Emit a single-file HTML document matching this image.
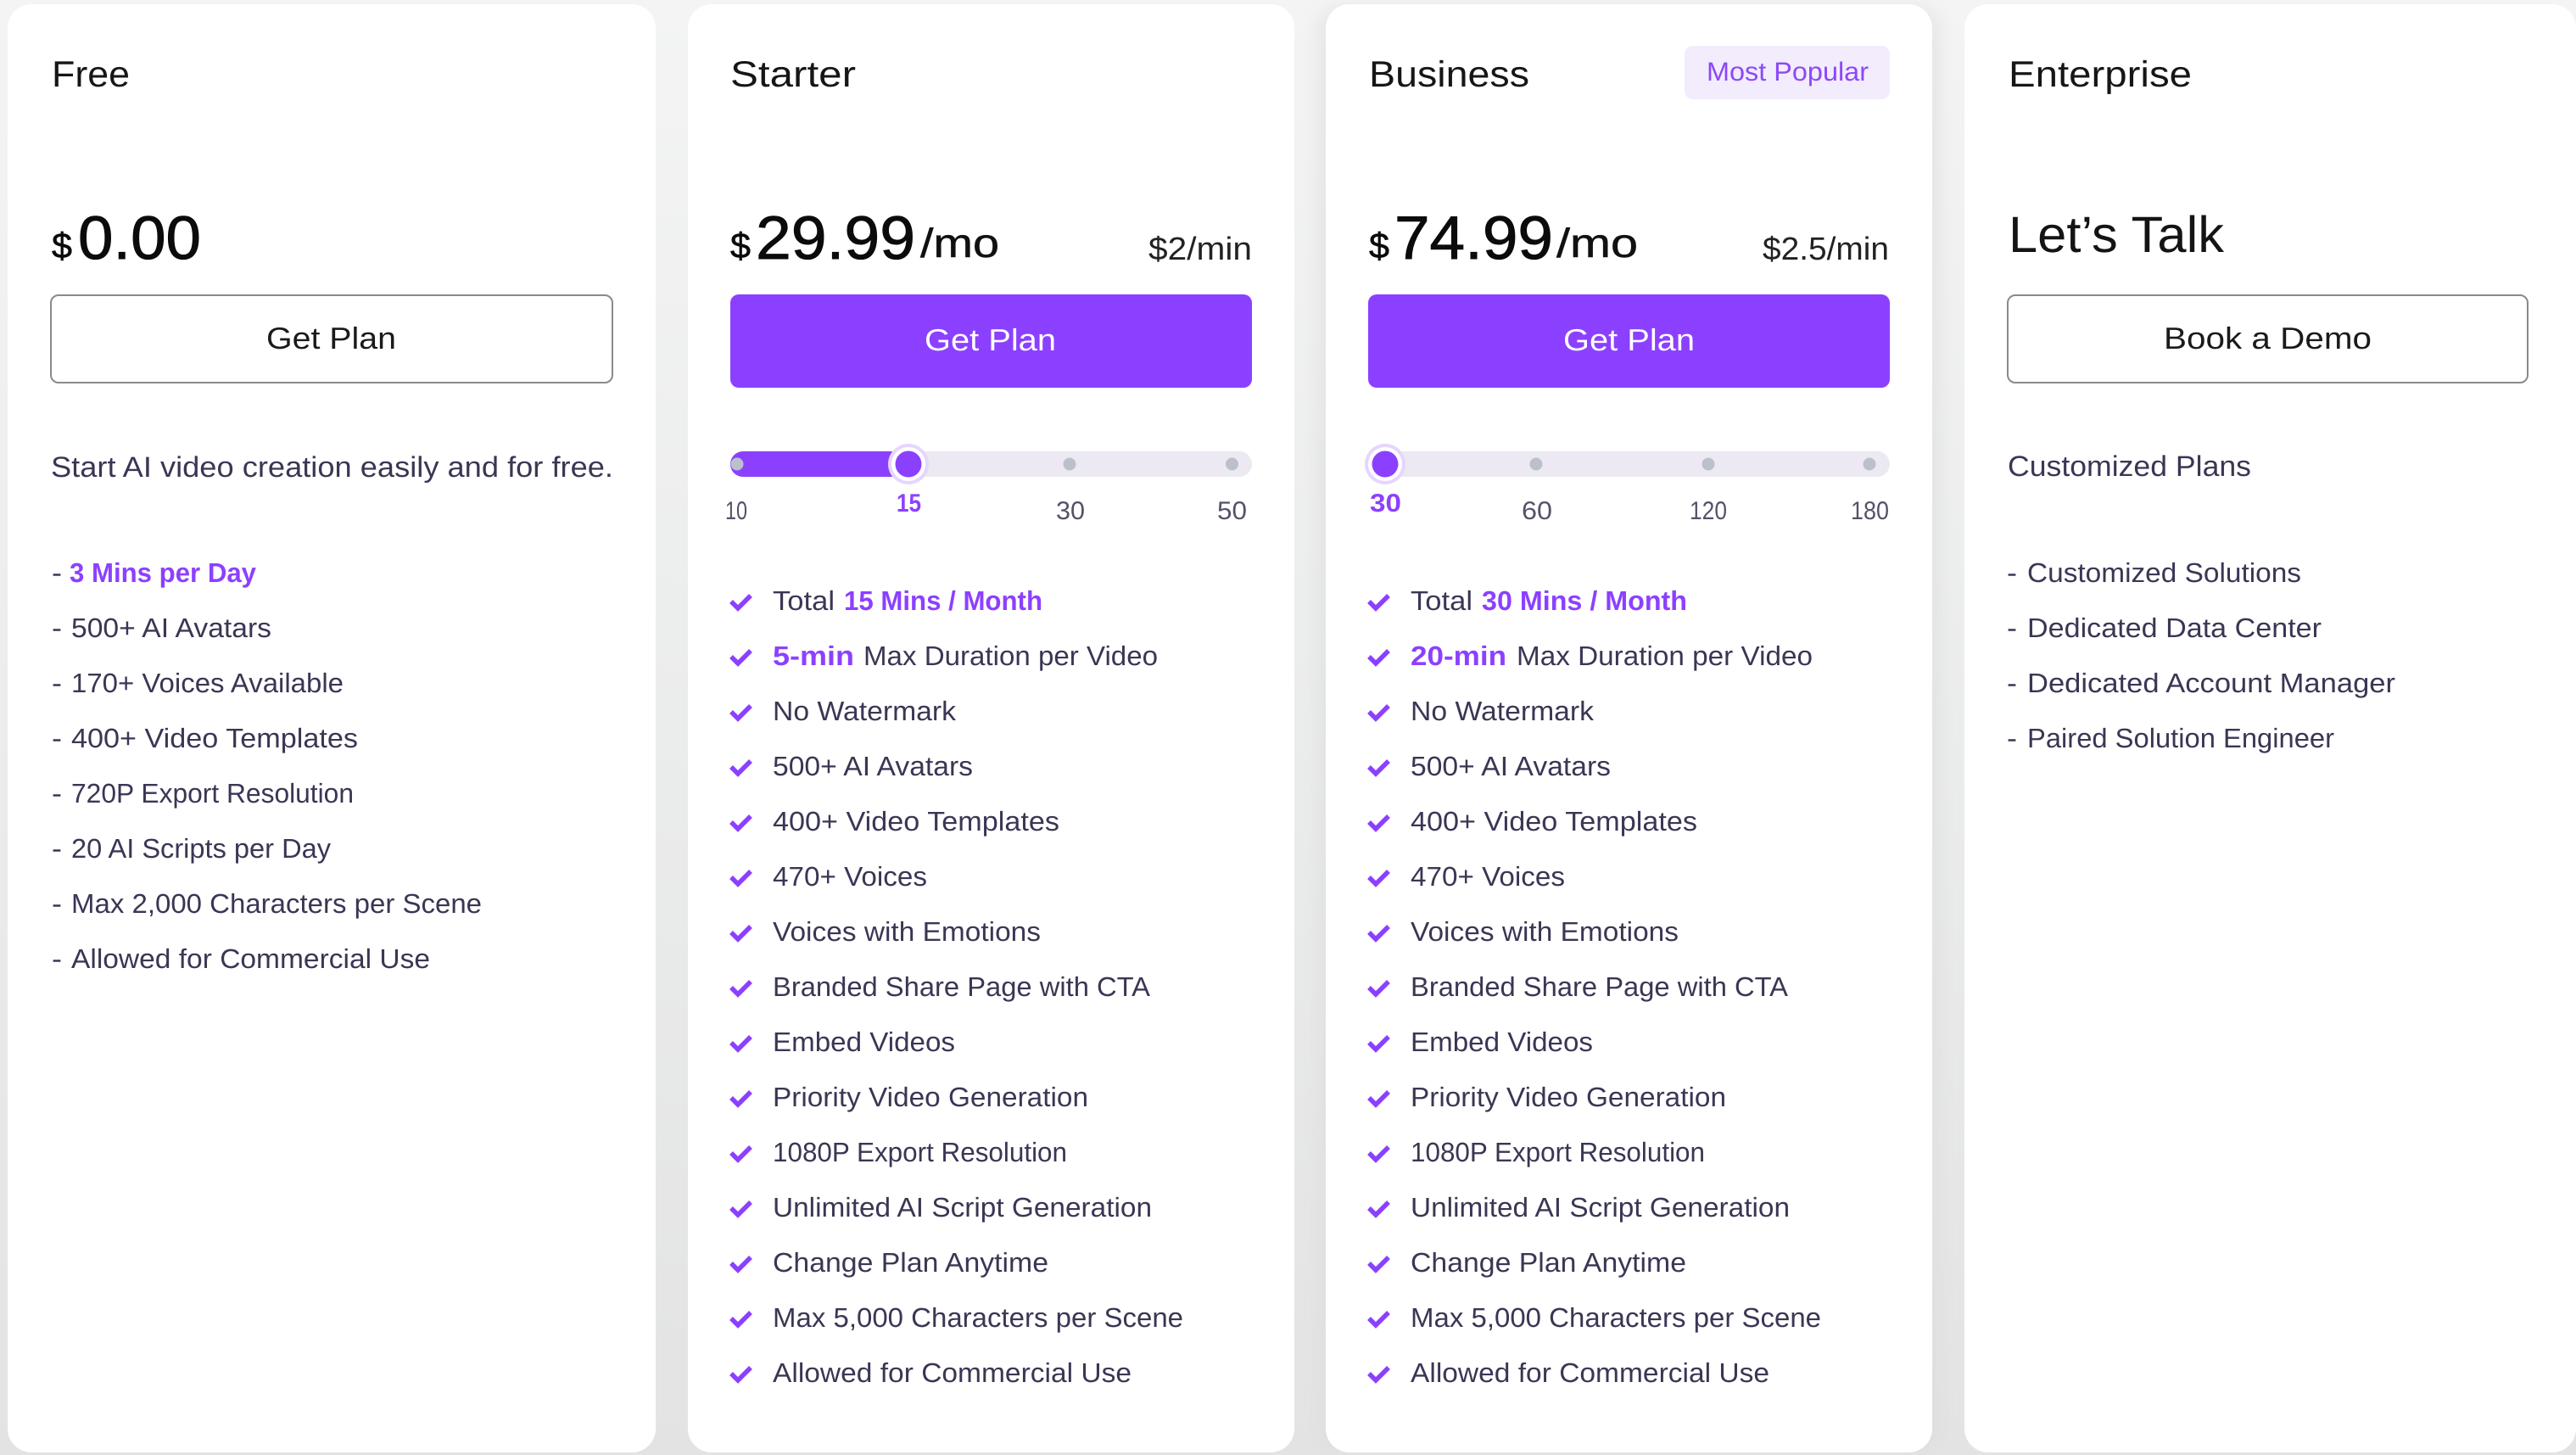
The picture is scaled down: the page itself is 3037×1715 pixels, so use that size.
<!DOCTYPE html>
<html lang="en">
<head>
<meta charset="utf-8">
<title>Pricing Plans</title>
<style>
html,body{margin:0;padding:0;width:3037px;height:1715px;overflow:hidden;background:#e8e9e8}
svg{display:block}
text{font-family:"Liberation Sans",Arial,sans-serif;text-rendering:geometricPrecision;white-space:pre}
.li{font-size:32px;fill:#3b3654}
.hl{font-size:32px;fill:#8c40ff;font-weight:700}
.h{font-size:43px;fill:#161616}
.b{font-size:36px;fill:#1a1a1a}
.bw{font-size:36px;fill:#fff}
.p{font-size:72px;fill:#0b0b0b;stroke:#0b0b0b;stroke-width:.9px}
.d{font-size:42px;fill:#0b0b0b;stroke:#0b0b0b;stroke-width:.6px}
.mo{font-size:48px;fill:#111;stroke:#111;stroke-width:.5px}
.rate{font-size:38px;fill:#222}
.desc{font-size:34px;fill:#3b3654}
.t{font-size:30px;fill:#55516a}
.ta{font-size:30px;fill:#8c40ff;font-weight:700}
.ck{fill:none;stroke:#8c40ff;stroke-width:5.5;stroke-linecap:butt;stroke-linejoin:miter}
.dot{fill:#bcc0cc}
</style>
</head>
<body>
<svg xmlns="http://www.w3.org/2000/svg" width="3037" height="1715" viewBox="0 0 3037 1715">
<defs>
<linearGradient id="bg" x1="0" y1="0" x2="0" y2="1"><stop offset="0" stop-color="#f3f4f3"/><stop offset=".5" stop-color="#ebecec"/><stop offset="1" stop-color="#e3e3e3"/></linearGradient>
<filter id="sh" x="-8%" y="-4%" width="116%" height="108%"><feGaussianBlur stdDeviation="10"/></filter>
<polyline id="check" class="ck" points="2,-10 10,-2 25,-17"/>
</defs>
<rect width="3037" height="1715" fill="url(#bg)"/>

<rect x="1553" y="8" width="735" height="1704" rx="28" fill="#dcdcdc" opacity=".55" filter="url(#sh)"/>
<rect x="9" y="5" width="764" height="1707" rx="28" fill="#fff"/>
<rect x="811" y="5" width="715" height="1707" rx="28" fill="#fff"/>
<rect x="1563" y="5" width="715" height="1707" rx="28" fill="#fff"/>
<rect x="2316" y="5" width="721" height="1707" rx="28" fill="#fff"/>

<!-- FREE -->
<g>
<text x="61" y="102" class="h" textLength="92" lengthAdjust="spacingAndGlyphs">Free</text>
<text x="61" y="304" class="d" textLength="24" lengthAdjust="spacingAndGlyphs">$</text>
<text x="92" y="305" class="p" textLength="145" lengthAdjust="spacingAndGlyphs">0.00</text>
<g>
<rect x="60" y="348" width="662" height="103" rx="9" fill="#fff" stroke="#8a8a8a" stroke-width="2"/>
<text x="314" y="411" class="b" textLength="153" lengthAdjust="spacingAndGlyphs">Get Plan</text>
</g>
<text x="60" y="562" class="desc" textLength="663" lengthAdjust="spacingAndGlyphs">Start AI video creation easily and for free.</text>
<text x="61" y="686" class="li" textLength="12" lengthAdjust="spacingAndGlyphs">-</text>
<text x="82" y="686" class="hl" textLength="220" lengthAdjust="spacingAndGlyphs">3 Mins per Day</text>
<text x="61" y="751" class="li" textLength="12" lengthAdjust="spacingAndGlyphs">-</text>
<text x="84" y="751" class="li" textLength="236" lengthAdjust="spacingAndGlyphs">500+ AI Avatars</text>
<text x="61" y="816" class="li" textLength="12" lengthAdjust="spacingAndGlyphs">-</text>
<text x="84" y="816" class="li" textLength="321" lengthAdjust="spacingAndGlyphs">170+ Voices Available</text>
<text x="61" y="881" class="li" textLength="12" lengthAdjust="spacingAndGlyphs">-</text>
<text x="84" y="881" class="li" textLength="338" lengthAdjust="spacingAndGlyphs">400+ Video Templates</text>
<text x="61" y="946" class="li" textLength="12" lengthAdjust="spacingAndGlyphs">-</text>
<text x="84" y="946" class="li" textLength="333" lengthAdjust="spacingAndGlyphs">720P Export Resolution</text>
<text x="61" y="1011" class="li" textLength="12" lengthAdjust="spacingAndGlyphs">-</text>
<text x="84" y="1011" class="li" textLength="306" lengthAdjust="spacingAndGlyphs">20 AI Scripts per Day</text>
<text x="61" y="1076" class="li" textLength="12" lengthAdjust="spacingAndGlyphs">-</text>
<text x="84" y="1076" class="li" textLength="484" lengthAdjust="spacingAndGlyphs">Max 2,000 Characters per Scene</text>
<text x="61" y="1141" class="li" textLength="12" lengthAdjust="spacingAndGlyphs">-</text>
<text x="84" y="1141" class="li" textLength="423" lengthAdjust="spacingAndGlyphs">Allowed for Commercial Use</text>
</g>

<!-- STARTER -->
<g>
<text x="861" y="102" class="h" textLength="148" lengthAdjust="spacingAndGlyphs">Starter</text>
<text x="861" y="304" class="d" textLength="24" lengthAdjust="spacingAndGlyphs">$</text>
<text x="891" y="305" class="p" textLength="188" lengthAdjust="spacingAndGlyphs">29.99</text>
<text x="1085" y="303" class="mo" textLength="93" lengthAdjust="spacingAndGlyphs">/mo</text>
<text x="1354" y="306" class="rate" textLength="122" lengthAdjust="spacingAndGlyphs">$2/min</text>
<g>
<rect x="861" y="347" width="615" height="110" rx="10" fill="#8c40ff"/>
<text x="1090" y="413" class="bw" textLength="155" lengthAdjust="spacingAndGlyphs">Get Plan</text>
</g>
<g>
<rect x="861" y="532" width="615" height="30" rx="15" fill="#ece9f2"/>
<rect x="861" y="532" width="210" height="30" rx="15" fill="#8c40ff"/>
<circle cx="869" cy="547" r="7.5" class="dot"/>
<circle cx="1261" cy="547" r="7.5" class="dot"/>
<circle cx="1452.500" cy="547" r="7.5" class="dot"/>
<circle cx="1071" cy="547" r="24" fill="#e6d6ff"/>
<circle cx="1071" cy="547" r="20" fill="#fff"/>
<circle cx="1071" cy="547" r="15.500" fill="#8c40ff"/>
<text x="855" y="612" class="t" textLength="26" lengthAdjust="spacingAndGlyphs">10</text>
<text x="1057" y="603" class="ta" textLength="29" lengthAdjust="spacingAndGlyphs">15</text>
<text x="1245" y="612" class="t" textLength="34" lengthAdjust="spacingAndGlyphs">30</text>
<text x="1435" y="612" class="t" textLength="35" lengthAdjust="spacingAndGlyphs">50</text>
</g>
<g>
<use href="#check" x="860" y="719"/>
<text x="911" y="719" class="li" textLength="73" lengthAdjust="spacingAndGlyphs">Total</text>
<text x="995" y="719" class="hl" textLength="234" lengthAdjust="spacingAndGlyphs">15 Mins / Month</text>
<use href="#check" x="860" y="784"/>
<text x="911" y="784" class="hl" textLength="96" lengthAdjust="spacingAndGlyphs">5-min</text>
<text x="1018" y="784" class="li" textLength="347" lengthAdjust="spacingAndGlyphs">Max Duration per Video</text>
<use href="#check" x="860" y="849"/>
<text x="911" y="849" class="li" textLength="216" lengthAdjust="spacingAndGlyphs">No Watermark</text>
<use href="#check" x="860" y="914"/>
<text x="911" y="914" class="li" textLength="236" lengthAdjust="spacingAndGlyphs">500+ AI Avatars</text>
<use href="#check" x="860" y="979"/>
<text x="911" y="979" class="li" textLength="338" lengthAdjust="spacingAndGlyphs">400+ Video Templates</text>
<use href="#check" x="860" y="1044"/>
<text x="911" y="1044" class="li" textLength="182" lengthAdjust="spacingAndGlyphs">470+ Voices</text>
<use href="#check" x="860" y="1109"/>
<text x="911" y="1109" class="li" textLength="316" lengthAdjust="spacingAndGlyphs">Voices with Emotions</text>
<use href="#check" x="860" y="1174"/>
<text x="911" y="1174" class="li" textLength="445" lengthAdjust="spacingAndGlyphs">Branded Share Page with CTA</text>
<use href="#check" x="860" y="1239"/>
<text x="911" y="1239" class="li" textLength="215" lengthAdjust="spacingAndGlyphs">Embed Videos</text>
<use href="#check" x="860" y="1304"/>
<text x="911" y="1304" class="li" textLength="372" lengthAdjust="spacingAndGlyphs">Priority Video Generation</text>
<use href="#check" x="860" y="1369"/>
<text x="911" y="1369" class="li" textLength="347" lengthAdjust="spacingAndGlyphs">1080P Export Resolution</text>
<use href="#check" x="860" y="1434"/>
<text x="911" y="1434" class="li" textLength="447" lengthAdjust="spacingAndGlyphs">Unlimited AI Script Generation</text>
<use href="#check" x="860" y="1499"/>
<text x="911" y="1499" class="li" textLength="325" lengthAdjust="spacingAndGlyphs">Change Plan Anytime</text>
<use href="#check" x="860" y="1564"/>
<text x="911" y="1564" class="li" textLength="484" lengthAdjust="spacingAndGlyphs">Max 5,000 Characters per Scene</text>
<use href="#check" x="860" y="1629"/>
<text x="911" y="1629" class="li" textLength="423" lengthAdjust="spacingAndGlyphs">Allowed for Commercial Use</text>
</g>
</g>

<!-- BUSINESS -->
<g>
<text x="1614" y="102" class="h" textLength="189" lengthAdjust="spacingAndGlyphs">Business</text>
<rect x="1986" y="54" width="242" height="63" rx="10" fill="#f2ecfd"/>
<text x="2012" y="95" font-size="31" fill="#8c48f8" textLength="191" lengthAdjust="spacingAndGlyphs">Most Popular</text>
<text x="1614" y="304" class="d" textLength="24" lengthAdjust="spacingAndGlyphs">$</text>
<text x="1644" y="305" class="p" textLength="187" lengthAdjust="spacingAndGlyphs">74.99</text>
<text x="1835" y="303" class="mo" textLength="96" lengthAdjust="spacingAndGlyphs">/mo</text>
<text x="2078" y="306" class="rate" textLength="149" lengthAdjust="spacingAndGlyphs">$2.5/min</text>
<g>
<rect x="1613" y="347" width="615" height="110" rx="10" fill="#8c40ff"/>
<text x="1843" y="413" class="bw" textLength="155" lengthAdjust="spacingAndGlyphs">Get Plan</text>
</g>
<g>
<rect x="1613" y="532" width="615" height="30" rx="15" fill="#ece9f2"/>
<circle cx="1811" cy="547" r="7.5" class="dot"/>
<circle cx="2014" cy="547" r="7.5" class="dot"/>
<circle cx="2204" cy="547" r="7.5" class="dot"/>
<circle cx="1633" cy="547" r="24" fill="#e6d6ff"/>
<circle cx="1633" cy="547" r="20" fill="#fff"/>
<circle cx="1633" cy="547" r="15.500" fill="#8c40ff"/>
<text x="1615" y="603" class="ta" textLength="37" lengthAdjust="spacingAndGlyphs">30</text>
<text x="1794" y="612" class="t" textLength="36" lengthAdjust="spacingAndGlyphs">60</text>
<text x="1992" y="612" class="t" textLength="44" lengthAdjust="spacingAndGlyphs">120</text>
<text x="2182" y="612" class="t" textLength="45" lengthAdjust="spacingAndGlyphs">180</text>
</g>
<g>
<use href="#check" x="1612" y="719"/>
<text x="1663" y="719" class="li" textLength="73" lengthAdjust="spacingAndGlyphs">Total</text>
<text x="1747" y="719" class="hl" textLength="242" lengthAdjust="spacingAndGlyphs">30 Mins / Month</text>
<use href="#check" x="1612" y="784"/>
<text x="1663" y="784" class="hl" textLength="113" lengthAdjust="spacingAndGlyphs">20-min</text>
<text x="1788" y="784" class="li" textLength="349" lengthAdjust="spacingAndGlyphs">Max Duration per Video</text>
<use href="#check" x="1612" y="849"/>
<text x="1663" y="849" class="li" textLength="216" lengthAdjust="spacingAndGlyphs">No Watermark</text>
<use href="#check" x="1612" y="914"/>
<text x="1663" y="914" class="li" textLength="236" lengthAdjust="spacingAndGlyphs">500+ AI Avatars</text>
<use href="#check" x="1612" y="979"/>
<text x="1663" y="979" class="li" textLength="338" lengthAdjust="spacingAndGlyphs">400+ Video Templates</text>
<use href="#check" x="1612" y="1044"/>
<text x="1663" y="1044" class="li" textLength="182" lengthAdjust="spacingAndGlyphs">470+ Voices</text>
<use href="#check" x="1612" y="1109"/>
<text x="1663" y="1109" class="li" textLength="316" lengthAdjust="spacingAndGlyphs">Voices with Emotions</text>
<use href="#check" x="1612" y="1174"/>
<text x="1663" y="1174" class="li" textLength="445" lengthAdjust="spacingAndGlyphs">Branded Share Page with CTA</text>
<use href="#check" x="1612" y="1239"/>
<text x="1663" y="1239" class="li" textLength="215" lengthAdjust="spacingAndGlyphs">Embed Videos</text>
<use href="#check" x="1612" y="1304"/>
<text x="1663" y="1304" class="li" textLength="372" lengthAdjust="spacingAndGlyphs">Priority Video Generation</text>
<use href="#check" x="1612" y="1369"/>
<text x="1663" y="1369" class="li" textLength="347" lengthAdjust="spacingAndGlyphs">1080P Export Resolution</text>
<use href="#check" x="1612" y="1434"/>
<text x="1663" y="1434" class="li" textLength="447" lengthAdjust="spacingAndGlyphs">Unlimited AI Script Generation</text>
<use href="#check" x="1612" y="1499"/>
<text x="1663" y="1499" class="li" textLength="325" lengthAdjust="spacingAndGlyphs">Change Plan Anytime</text>
<use href="#check" x="1612" y="1564"/>
<text x="1663" y="1564" class="li" textLength="484" lengthAdjust="spacingAndGlyphs">Max 5,000 Characters per Scene</text>
<use href="#check" x="1612" y="1629"/>
<text x="1663" y="1629" class="li" textLength="423" lengthAdjust="spacingAndGlyphs">Allowed for Commercial Use</text>
</g>
</g>

<!-- ENTERPRISE -->
<g>
<text x="2368" y="102" class="h" textLength="216" lengthAdjust="spacingAndGlyphs">Enterprise</text>
<text x="2368" y="297" font-size="60" fill="#141414" textLength="254" lengthAdjust="spacingAndGlyphs">Let’s Talk</text>
<g>
<rect x="2367" y="348" width="613" height="103" rx="9" fill="#fff" stroke="#8a8a8a" stroke-width="2"/>
<text x="2551" y="411" class="b" textLength="245" lengthAdjust="spacingAndGlyphs">Book a Demo</text>
</g>
<text x="2367" y="561" class="desc" textLength="287" lengthAdjust="spacingAndGlyphs">Customized Plans</text>
<text x="2366" y="686" class="li" textLength="12" lengthAdjust="spacingAndGlyphs">-</text>
<text x="2390" y="686" class="li" textLength="323" lengthAdjust="spacingAndGlyphs">Customized Solutions</text>
<text x="2366" y="751" class="li" textLength="12" lengthAdjust="spacingAndGlyphs">-</text>
<text x="2390" y="751" class="li" textLength="347" lengthAdjust="spacingAndGlyphs">Dedicated Data Center</text>
<text x="2366" y="816" class="li" textLength="12" lengthAdjust="spacingAndGlyphs">-</text>
<text x="2390" y="816" class="li" textLength="434" lengthAdjust="spacingAndGlyphs">Dedicated Account Manager</text>
<text x="2366" y="881" class="li" textLength="12" lengthAdjust="spacingAndGlyphs">-</text>
<text x="2390" y="881" class="li" textLength="362" lengthAdjust="spacingAndGlyphs">Paired Solution Engineer</text>
</g>
</svg>
</body>
</html>
